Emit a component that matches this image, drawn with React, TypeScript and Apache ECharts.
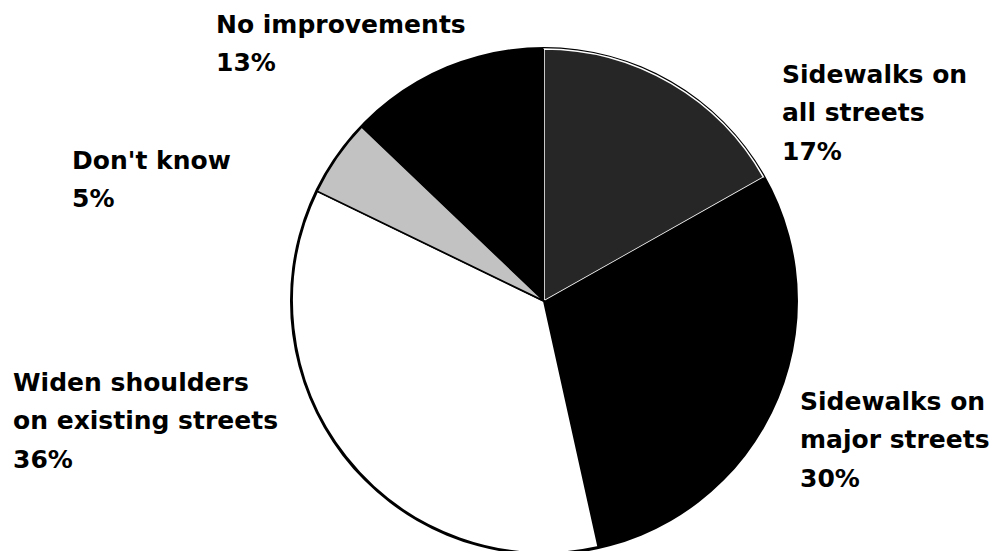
import React, { useEffect, useRef } from "react";
import * as echarts from "echarts";

const categories = [
  "Sidewalks on\nall streets",
  "Sidewalks on\nmajor streets",
  "Widen shoulders\non existing streets",
  "Don't know",
  "No improvements",
];
const values = [17, 30, 36, 5, 13];
const sliceColors = ["#262626", "#000000", "#ffffff", "#c2c2c2", "#000000"];
const sliceBorders = [
  { color: "#ffffff", width: 1.5 },
  { color: "#000000", width: 0 },
  { color: "#000000", width: 2 },
  { color: "#000000", width: 1.5 },
  { color: "#000000", width: 0 },
];
// label block top-left positions (px)
const labelPos = [
  [782, 55],
  [800, 382],
  [13, 363],
  [72, 141],
  [216, 5],
];

export default function App() {
  const ref = useRef<HTMLDivElement>(null);
  useEffect(() => {
    if (!ref.current) return;
    const chart = echarts.init(ref.current, null, { renderer: "svg" });
    const center = [544, 301];
    chart.setOption({
      animation: false,
      backgroundColor: "#ffffff",
      series: [
        {
          type: "pie",
          silent: true,
          center,
          radius: 254,
          z: 1,
          label: { show: false },
          labelLine: { show: false },
          itemStyle: { color: "#000000", borderWidth: 0 },
          data: [{ value: 1, name: "outline" }],
        },
        {
          type: "pie",
          center,
          radius: 252,
          z: 2,
          startAngle: 90,
          clockwise: true,
          avoidLabelOverlap: false,
          data: categories.map((c, i) => ({
            name: c,
            value: values[i],
            itemStyle: {
              color: sliceColors[i],
              borderColor: sliceBorders[i].color,
              borderWidth: sliceBorders[i].width,
            },
          })),
          label: {
            show: true,
            position: "outside",
            formatter: (p: any) => `${p.name}\n${p.value}%`,
            fontFamily: "DejaVu Sans",
            fontWeight: "bold",
            fontSize: 25,
            lineHeight: 38.5,
            color: "#000000",
            align: "left",
          },
          labelLine: { show: false },
          labelLayout: (params: any) => {
            const pos = labelPos[params.dataIndex];
            return {
              x: pos[0],
              y: pos[1],
              align: "left",
              verticalAlign: "top",
            };
          },
        },
      ],
    });
    return () => chart.dispose();
  }, []);
  return (
    <div
      ref={ref}
      style={{
        position: "absolute",
        left: 0,
        top: 0,
        width: 989,
        height: 551,
        background: "#fff",
      }}
    />
  );
}
